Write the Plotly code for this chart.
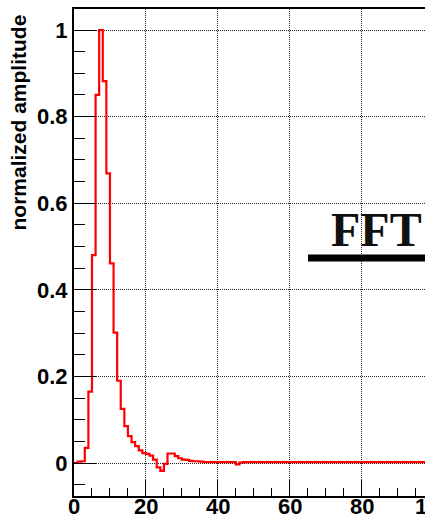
import plotly.graph_objects as go

# ---- data ----
bin_width = 1.0
amplitude = [
    0.000, 0.003, 0.004, 0.035, 0.165, 0.480, 0.850, 1.000, 0.882, 0.669,
    0.461, 0.301, 0.190, 0.125, 0.085, 0.062, 0.048, 0.039, 0.029, 0.023,
    0.021, 0.017, 0.008, -0.010, -0.018, -0.002, 0.022, 0.022, 0.016, 0.011,
    0.008, 0.007, 0.005, 0.004, 0.004, 0.003, 0.002, 0.002, 0.002, 0.002,
    0.002, 0.002, 0.002, 0.002, 0.002, -0.003, 0.001, 0.002, 0.002, 0.002,
    0.002, 0.002, 0.002, 0.002, 0.002, 0.002, 0.002, 0.002, 0.002, 0.002,
    0.002, 0.002, 0.002, 0.002, 0.002, 0.002, 0.002, 0.002, 0.002, 0.002,
    0.002, 0.002, 0.002, 0.002, 0.002, 0.002, 0.002, 0.002, 0.002, 0.002,
    0.002, 0.002, 0.002, 0.002, 0.002, 0.002, 0.002, 0.002, 0.002, 0.002,
    0.002, 0.002, 0.002, 0.002, 0.002, 0.002, 0.002, 0.002, 0.002, 0.002,
]
x_tick_values = [0, 20, 40, 60, 80, 100]
y_tick_values = [0, 0.2, 0.4, 0.6, 0.8, 1]
y_tick_text = ["0", "0.2", "0.4", "0.6", "0.8", "1"]
y_title = "normalized amplitude"
legend_label = "FFT"

x_range = [0, 97.6]
y_range = [-0.0762, 1.0485]

# step outline (ROOT-style histogram)
edges = [i * bin_width for i in range(len(amplitude) + 1)]
step_y = amplitude + [amplitude[-1]]

W, H = 425, 521
ML, MR, MT, MB = 74, 0, 9, 25

fig = go.Figure()
fig.add_trace(go.Scatter(
    x=edges, y=step_y, mode="lines", line_shape="hv",
    line=dict(color="#ff0000", width=2.2), showlegend=False,
    hoverinfo="skip",
))

label_font = dict(family="Liberation Sans", size=22, color="black", weight="bold")
grid_dash = "1px,1px"

fig.update_layout(
    width=W, height=H, autosize=False,
    margin=dict(l=ML, r=MR, t=MT, b=MB, pad=0),
    paper_bgcolor="white", plot_bgcolor="white",
    template="none",
    showlegend=False,
    xaxis=dict(
        range=x_range, autorange=False, automargin=False,
        tickmode="array", tickvals=x_tick_values, showticklabels=False,
        ticks="inside", ticklen=16, tickwidth=1, tickcolor="black",
        showline=True, linecolor="black", linewidth=2, mirror=True,
        showgrid=True, gridcolor="#222222", gridwidth=1, griddash=grid_dash,
        zeroline=False,
        minor=dict(ticks="inside", ticklen=8, tickwidth=1, tickcolor="black",
                   dtick=5, tick0=0, showgrid=False),
    ),
    yaxis=dict(
        range=y_range, autorange=False, automargin=False,
        tickmode="array", tickvals=y_tick_values, ticktext=y_tick_text,
        ticks="inside", ticklen=22, tickwidth=1, tickcolor="black",
        showline=True, linecolor="black", linewidth=2, mirror=False,
        showgrid=True, gridcolor="#222222", gridwidth=1, griddash=grid_dash,
        zeroline=False, tickfont=label_font,
        minor=dict(ticks="inside", ticklen=11, tickwidth=1, tickcolor="black",
                   dtick=0.05, tick0=0, showgrid=False),
    ),
)

plot_w = W - ML - MR
plot_h = H - MT - MB

# x tick labels (placed close under the axis, ROOT style)
for v in x_tick_values:
    fig.add_annotation(
        text=str(v), showarrow=False,
        xref="paper", yref="paper",
        x=(v - x_range[0]) / (x_range[1] - x_range[0]), y=0,
        xanchor="center", yanchor="top", yshift=4,
        font=label_font,
    )

# y-axis title, ROOT style (aligned to the top end of the axis)
fig.add_annotation(
    text=y_title, textangle=-90, showarrow=False,
    xref="paper", yref="paper",
    x=(17.5 - ML) / plot_w, y=(H - MB - 123) / plot_h,
    xanchor="center", yanchor="middle",
    font=dict(family="Liberation Sans", size=21, color="black", weight="bold"),
)

# legend entry: "FFT" with thick black line underneath
fig.add_annotation(
    text=legend_label, showarrow=False,
    xref="paper", yref="paper",
    x=(329 - ML) / plot_w, y=(H - MB - 229) / plot_h,
    xanchor="left", yanchor="middle",
    font=dict(family="Liberation Serif", size=48, color="#111111", weight="bold"),
)
fig.add_shape(
    type="line", xref="paper", yref="paper",
    x0=(308 - ML) / plot_w, x1=1.05,
    y0=(H - MB - 258) / plot_h, y1=(H - MB - 258) / plot_h,
    line=dict(color="black", width=7),
)

fig.write_html("out.html")
